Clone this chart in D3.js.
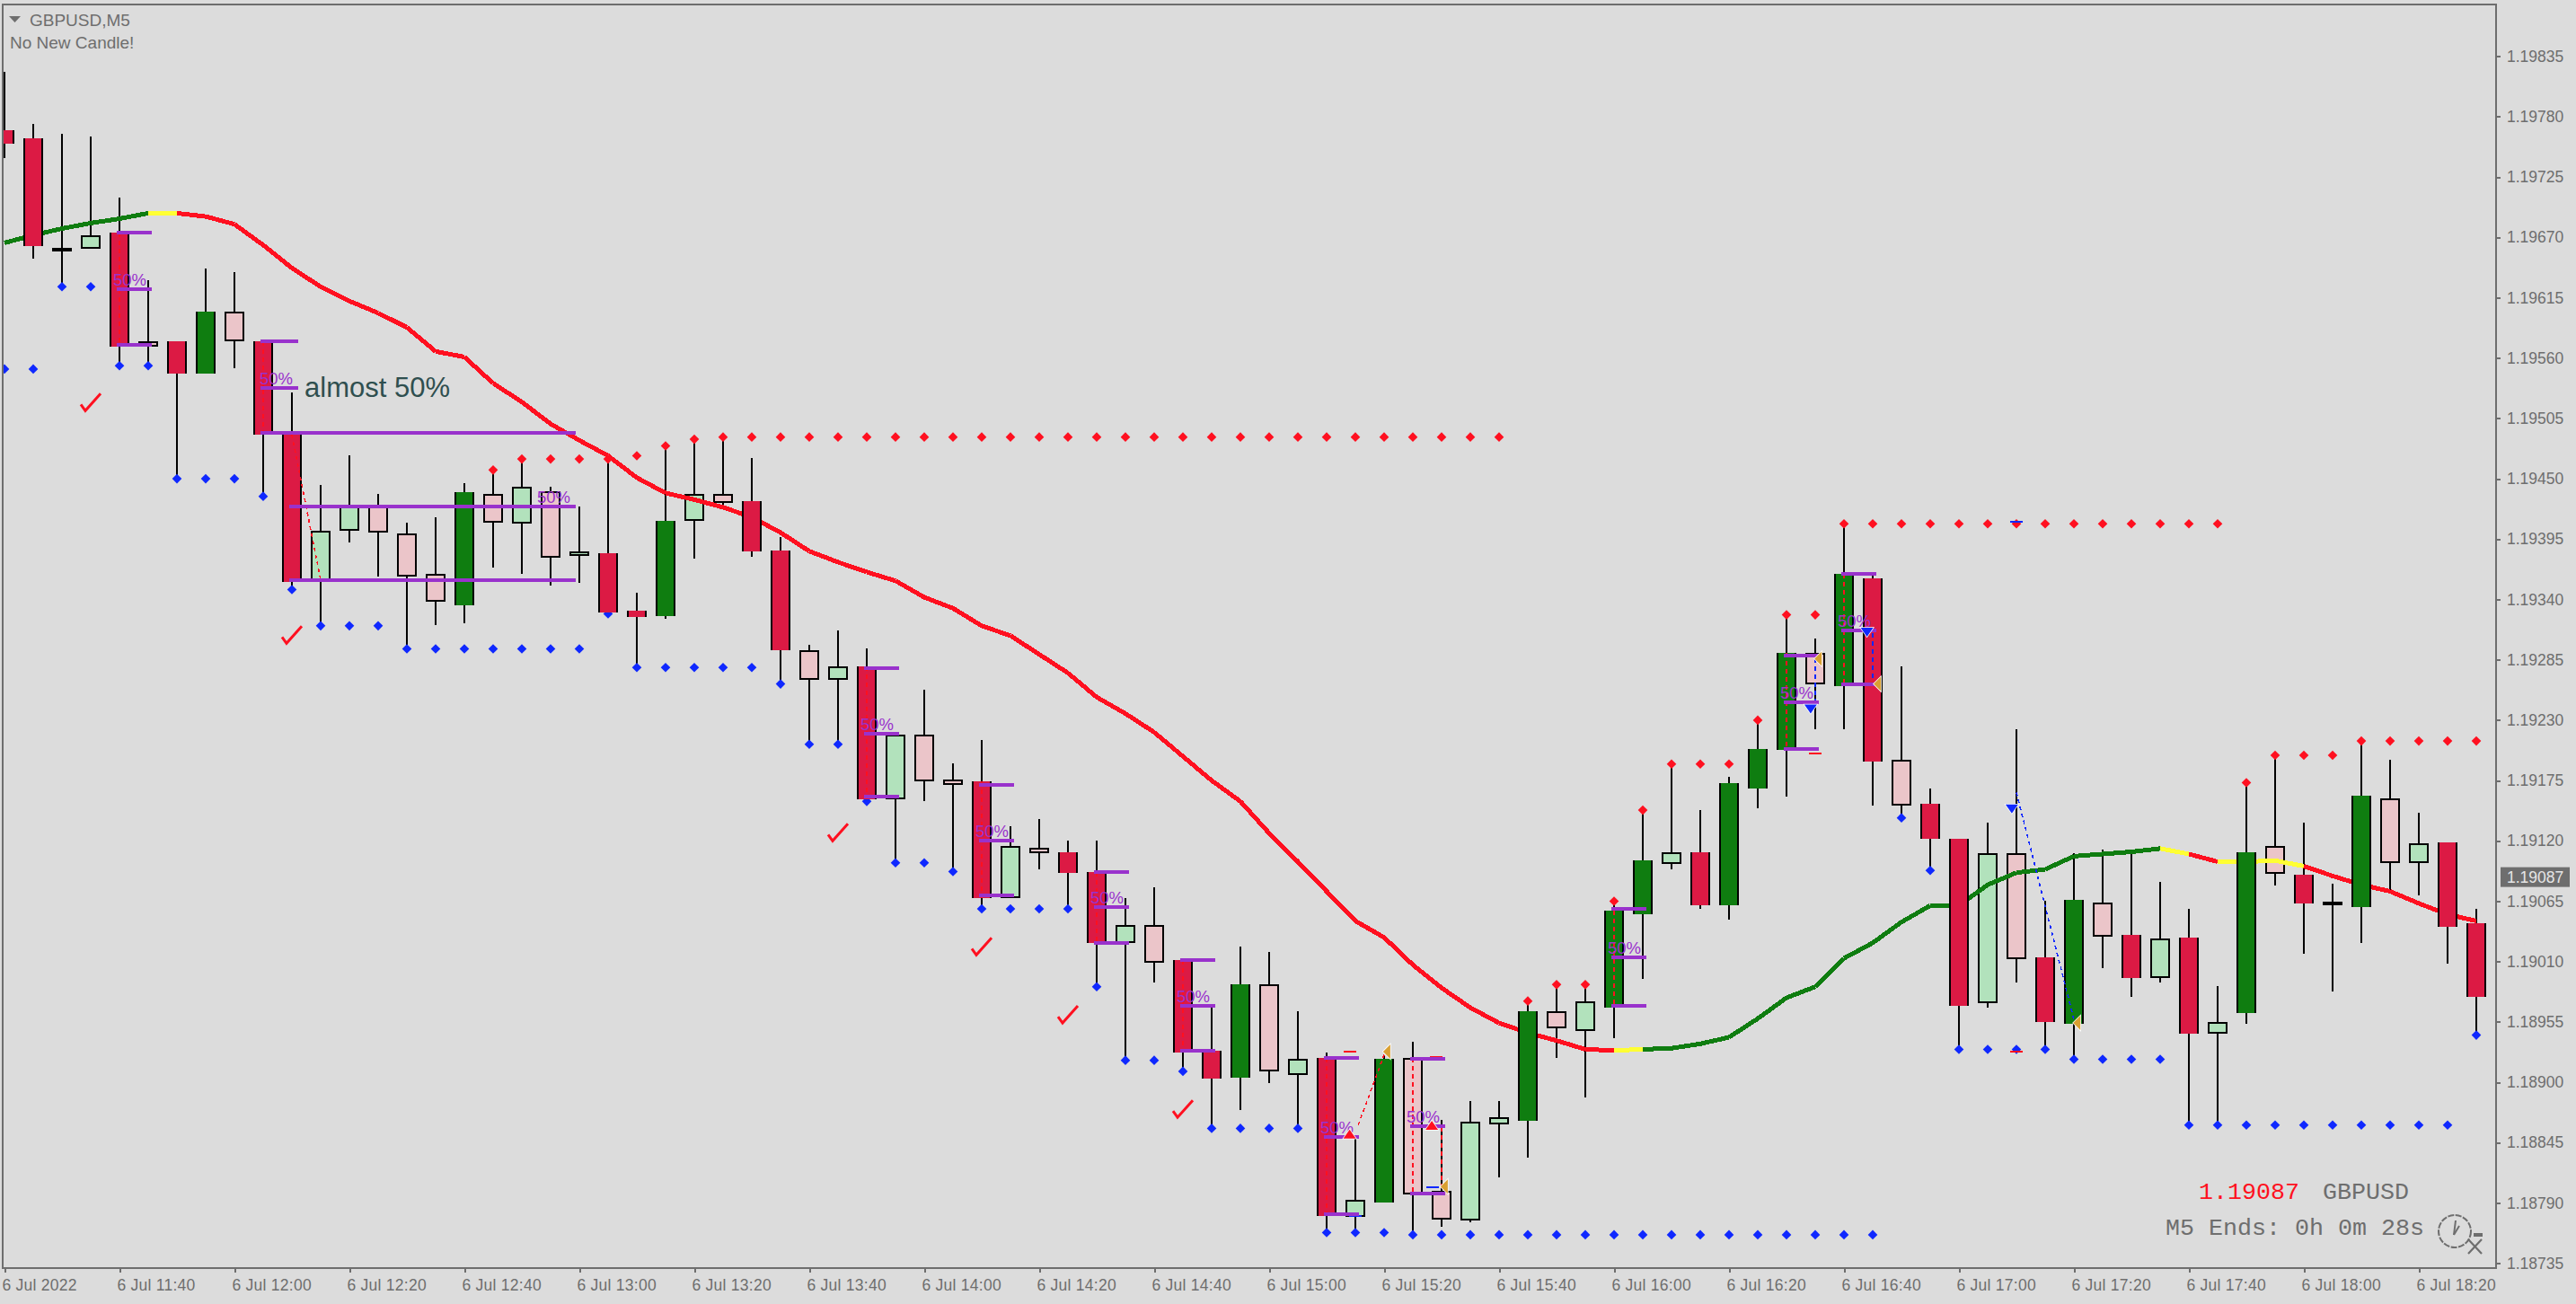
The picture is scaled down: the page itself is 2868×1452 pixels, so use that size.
<!DOCTYPE html>
<html><head><meta charset="utf-8">
<script src="https://cdn.jsdelivr.net/npm/d3@7/dist/d3.min.js"></script>
<style>html,body{margin:0;padding:0;background:#dcdcdc;overflow:hidden}svg{display:block}</style>
</head><body>
<script>
const priceTicks=[1.19835,1.19780,1.19725,1.19670,1.19615,1.19560,1.19505,1.19450,1.19395,1.19340,1.19285,1.19230,1.19175,1.19120,1.19065,1.19010,1.18955,1.18900,1.18845,1.18790,1.18735];
const timeTickBars=[0,4,8,12,16,20,24,28,32,36,40,44,48,52,56,60,64,68,72,76,80,84];
const timeLabels=["6 Jul 2022","6 Jul 11:40","6 Jul 12:00","6 Jul 12:20","6 Jul 12:40","6 Jul 13:00","6 Jul 13:20","6 Jul 13:40","6 Jul 14:00","6 Jul 14:20","6 Jul 14:40","6 Jul 15:00","6 Jul 15:20","6 Jul 15:40","6 Jul 16:00","6 Jul 16:20","6 Jul 16:40","6 Jul 17:00","6 Jul 17:20","6 Jul 17:40","6 Jul 18:00","6 Jul 18:20"];
const kinds="RRDLRPRGPRRLLPPPGPLPLRRGLPRRPLRLPPRLPRRLPRRGPLRLGPPLLGPLGGLRGGGPGRPRRLPRGPRLRLGPRDGPLRR".split("");
const highs=[1.19821,1.19773,1.19764,1.19762,1.19706,1.19631,1.19575,1.19642,1.19638,1.19575,1.19529,1.19444,1.19471,1.19436,1.19410,1.19415,1.19446,1.19458,1.19468,1.19443,1.19425,1.19468,1.19346,1.19480,1.19486,1.19488,1.19469,1.19397,1.19299,1.19312,1.19295,1.19217,1.19258,1.19191,1.19212,1.19133,1.19140,1.19120,1.19120,1.19068,1.19078,1.19011,1.18970,1.19024,1.19019,1.18965,1.18927,1.18850,1.18925,1.18937,1.18866,1.18883,1.18883,1.18974,1.18989,1.18989,1.19065,1.19148,1.19190,1.19148,1.19178,1.19230,1.19326,1.19304,1.19409,1.19363,1.19279,1.19168,1.19122,1.19137,1.19222,1.19065,1.19109,1.19112,1.19110,1.19083,1.19058,1.18988,1.19173,1.19198,1.19137,1.19081,1.19211,1.19194,1.19146,1.19119,1.19058];
const bodyTops=[1.19768,1.19760,1.19659,1.19672,1.19674,1.19575,1.19575,1.19602,1.19602,1.19575,1.19490,1.19403,1.19425,1.19425,1.19400,1.19363,1.19438,1.19436,1.19443,1.19439,1.19384,1.19382,1.19330,1.19412,1.19436,1.19436,1.19430,1.19385,1.19294,1.19279,1.19279,1.19217,1.19217,1.19176,1.19174,1.19115,1.19114,1.19110,1.19092,1.19043,1.19043,1.19011,1.18929,1.18989,1.18989,1.18921,1.18922,1.18793,1.18921,1.18922,1.18801,1.18864,1.18868,1.18965,1.18965,1.18974,1.19056,1.19102,1.19110,1.19110,1.19173,1.19204,1.19291,1.19291,1.19363,1.19359,1.19194,1.19154,1.19122,1.19109,1.19109,1.19014,1.19066,1.19064,1.19034,1.19031,1.19032,1.18955,1.19110,1.19115,1.19089,1.19063,1.19161,1.19159,1.19118,1.19119,1.19045];
const bodyBottoms=[1.19755,1.19662,1.19659,1.19660,1.19570,1.19570,1.19546,1.19546,1.19575,1.19490,1.19356,1.19357,1.19403,1.19401,1.19361,1.19338,1.19335,1.19410,1.19409,1.19378,1.19380,1.19328,1.19324,1.19325,1.19412,1.19428,1.19384,1.19294,1.19267,1.19267,1.19158,1.19158,1.19174,1.19171,1.19068,1.19068,1.19109,1.19091,1.19027,1.19027,1.19009,1.18927,1.18903,1.18904,1.18910,1.18907,1.18778,1.18777,1.18790,1.18798,1.18775,1.18774,1.18862,1.18865,1.18949,1.18947,1.18968,1.19053,1.19099,1.19061,1.19061,1.19168,1.19203,1.19263,1.19261,1.19192,1.19152,1.19122,1.18970,1.18972,1.19012,1.18955,1.18953,1.19033,1.18995,1.18995,1.18944,1.18944,1.18963,1.19090,1.19063,1.19063,1.19060,1.19100,1.19100,1.19042,1.18978];
const lows=[1.19742,1.19651,1.19625,1.19660,1.19553,1.19553,1.19450,1.19546,1.19551,1.19434,1.19349,1.19316,1.19392,1.19361,1.19299,1.19317,1.19318,1.19369,1.19363,1.19353,1.19355,1.19327,1.19278,1.19322,1.19377,1.19426,1.19379,1.19263,1.19208,1.19208,1.19156,1.19100,1.19156,1.19092,1.19058,1.19068,1.19094,1.19058,1.18987,1.18920,1.18991,1.18910,1.18858,1.18875,1.18899,1.18858,1.18763,1.18763,1.18790,1.18761,1.18768,1.18772,1.18813,1.18831,1.18922,1.18886,1.18940,1.18994,1.19094,1.19058,1.19048,1.19150,1.19160,1.19222,1.19222,1.19152,1.19141,1.19093,1.18930,1.18968,1.18991,1.18930,1.18921,1.19004,1.18978,1.18991,1.18861,1.18861,1.18953,1.19079,1.19017,1.18983,1.19027,1.19074,1.19070,1.19008,1.18943];
const maValues=[1.19665,1.19672,1.19678,1.19683,1.19687,1.19692,1.19692,1.19689,1.19682,1.19663,1.19642,1.19625,1.19612,1.19601,1.19588,1.19566,1.19561,1.19537,1.19520,1.19500,1.19485,1.19471,1.19451,1.19437,1.19431,1.19424,1.19415,1.19401,1.19384,1.19374,1.19365,1.19357,1.19342,1.19332,1.19316,1.19307,1.19290,1.19273,1.19251,1.19236,1.19219,1.19197,1.19175,1.19156,1.19127,1.19101,1.19074,1.19047,1.19032,1.19007,1.18986,1.18968,1.18954,1.18945,1.18938,1.18930,1.18929,1.18930,1.18931,1.18935,1.18941,1.18958,1.18977,1.18987,1.19013,1.19027,1.19046,1.19061,1.19061,1.19080,1.19091,1.19094,1.19106,1.19108,1.19110,1.19113,1.19108,1.19101,1.19101,1.19102,1.19097,1.19088,1.19080,1.19074,1.19063,1.19053,1.19047];
const maTrend="GGGGGYRRRRRRRRRRRRRRRRRRRRRRRRRRRRRRRRRRRRRRRRRRRRRRRRRRYGGGGGGGGGGGGGGGGGGYRYYYRRRRRR".split("");
const resistance=[null,null,null,null,null,null,null,null,null,null,null,null,null,null,null,null,null,1.19458,1.19468,1.19468,1.19468,1.19468,1.19471,1.19480,1.19486,1.19488,1.19488,1.19488,1.19488,1.19488,1.19488,1.19488,1.19488,1.19488,1.19488,1.19488,1.19488,1.19488,1.19488,1.19488,1.19488,1.19488,1.19488,1.19488,1.19488,1.19488,1.19488,1.19488,1.19488,1.19488,1.19488,1.19488,1.19488,1.18974,1.18989,1.18989,1.19065,1.19148,1.19190,1.19190,1.19190,1.19230,1.19326,1.19326,1.19409,1.19409,1.19409,1.19409,1.19409,1.19409,1.19409,1.19409,1.19409,1.19409,1.19409,1.19409,1.19409,1.19409,1.19173,1.19198,1.19198,1.19198,1.19211,1.19211,1.19211,1.19211,1.19211];
const support=[1.19550,1.19550,1.19625,1.19625,1.19553,1.19553,1.19450,1.19450,1.19450,1.19434,1.19349,1.19316,1.19316,1.19316,1.19295,1.19295,1.19295,1.19295,1.19295,1.19295,1.19295,1.19327,1.19278,1.19278,1.19278,1.19278,1.19278,1.19263,1.19208,1.19208,1.19156,1.19100,1.19100,1.19092,1.19058,1.19058,1.19058,1.19058,1.18987,1.18920,1.18920,1.18910,1.18858,1.18858,1.18858,1.18858,1.18763,1.18763,1.18763,1.18761,1.18761,1.18761,1.18761,1.18761,1.18761,1.18761,1.18761,1.18761,1.18761,1.18761,1.18761,1.18761,1.18761,1.18761,1.18761,1.18761,1.19141,1.19093,1.18930,1.18930,1.18930,1.18930,1.18921,1.18921,1.18921,1.18921,1.18861,1.18861,1.18861,1.18861,1.18861,1.18861,1.18861,1.18861,1.18861,1.18861,1.18943];
const fibBars=[4,9,10,30,34,38,41,46,49,56,62,64];
const fibSpans=[1.22,1.31,9.97,1.22,1.22,1.22,1.22,1.22,1.22,1.22,1.22,1.22];
const fibTops=[1.19674,1.19575,1.19492,1.19277,1.19171,1.19092,1.19011,1.18922,1.18921,1.19058,1.19289,1.19363];
const fibMids=[1.19623,1.19533,1.19425,1.19218,1.19120,1.19060,1.18970,1.18850,1.18860,1.19014,1.19246,1.19312];
const fibBottoms=[1.19572,1.19492,1.19358,1.19160,1.19070,1.19027,1.18929,1.18780,1.18799,1.18970,1.19204,1.19263];
const redDashStartBars=[4,9,10,30,34,38,41,46,47.1,49,50,56,62,64];
const redDashStartPrices=[1.19674,1.19575,1.19490,1.19279,1.19174,1.19092,1.19011,1.18922,1.18861,1.18922,1.18859,1.19056,1.19291,1.19363];
const redDashEndBars=[4,9,11,30,34,38,41,46,48,49,50,56,62,64];
const redDashEndPrices=[1.19570,1.19490,1.19358,1.19158,1.19068,1.19027,1.18929,1.18778,1.18925,1.18799,1.18801,1.18968,1.19203,1.19261];
const blueDashStartBars=[63,65,70];
const blueDashStartPrices=[1.19286,1.19309,1.19164];
const blueDashEndBars=[63,65,72];
const blueDashEndPrices=[1.19246,1.19265,1.18957];
const checkBars=[3,10,29,34,37,41];
const checkPrices=[1.19512,1.19300,1.19120,1.19016,1.18954,1.18868];
const orangeBars=[48.09,50.09,63.1,65.16,72.1];
const orangePrices=[1.18928,1.18805,1.19286,1.19263,1.18954];
const blueArrowBars=[62.84,64.8,69.84];
const blueArrowPrices=[1.19241,1.19311,1.19150];
const redArrowBars=[46.8,49.66];
const redArrowPrices=[1.18852,1.18860];
const redTickBars=[46.8,49.8,63,70];
const redTickPrices=[1.18928,1.18923,1.19200,1.18928];
const blueTickBars=[70,47,49.7];
const blueTickPrices=[1.19411,1.18778,1.18804];
const lastPrice=1.19087;

const W=2868,H=1452,L=3,T=5,R=2779,B=1412;
const FG="#6e6e6e",CRIMSON="#dc1a44",GREEN="#0f7d10",PALEG="#b2e2bc",PALER="#ebc5c9",PURPLE="#9932cc",RED="#ff1020",BLUE="#0f28ff";
const svg=d3.select("body").append("svg").attr("width",W).attr("height",H);
svg.append("rect").attr("width",W).attr("height",H).attr("fill","#dcdcdc");
svg.append("defs").append("clipPath").attr("id","plot").append("rect").attr("x",L).attr("y",T).attr("width",R-L).attr("height",B-T);

const x=d3.scaleLinear().domain([0,86]).range([5,2757]);
const y=d3.scaleLinear().domain([1.18735,1.19835]).range([1406.7,62.7]);
const bars=d3.range(kinds.length).map(i=>({i,kind:kinds[i],h:highs[i],l:lows[i],t:bodyTops[i],b:bodyBottoms[i]}));
const plot=svg.append("g").attr("clip-path","url(#plot)");
const HW=11;

// wicks
plot.append("g").selectAll("rect").data(bars).join("rect")
 .attr("x",d=>x(d.i)-1).attr("width",2).attr("y",d=>Math.round(y(d.h))).attr("height",d=>Math.round(y(d.l))-Math.round(y(d.h)))
 .attr("fill","#000").attr("shape-rendering","crispEdges");
// pale bodies
plot.append("g").selectAll("rect").data(bars.filter(d=>d.kind==="L"||d.kind==="P")).join("rect")
 .attr("x",d=>x(d.i)-HW+1).attr("width",2*HW-2).attr("y",d=>Math.round(y(d.t))+1).attr("height",d=>Math.max(1,Math.round(y(d.b))-Math.round(y(d.t))-2))
 .attr("fill",d=>d.kind==="L"?PALEG:PALER).attr("stroke","#000").attr("stroke-width",2).attr("shape-rendering","crispEdges");
// moving average
const maLine=d3.line().x(d=>x(d[0])).y(d=>y(d[1]));
const maColor={G:GREEN,Y:"#ffff33",R:RED};
const maSegs=d3.range(maValues.length-1).map(i=>({c:maTrend[i],pts:[[i,maValues[i]],[i+1,maValues[i+1]]]}));
plot.append("g").selectAll("path").data(maSegs).join("path").attr("d",d=>maLine(d.pts)).attr("fill","none")
 .attr("stroke",d=>maColor[d.c]).attr("stroke-width",5).attr("stroke-linecap","butt").attr("stroke-linejoin","round").attr("shape-rendering","crispEdges");
// dots
const diamond=d3.symbol().type(d3.symbolDiamond2).size(72);
plot.append("g").selectAll("path").data(resistance.map((v,i)=>({v,i})).filter(d=>d.v!==null)).join("path")
 .attr("d",diamond).attr("transform",d=>`translate(${x(d.i)},${y(d.v)})`).attr("fill",RED);
plot.append("g").selectAll("path").data(support.map((v,i)=>({v,i}))).join("path")
 .attr("d",diamond).attr("transform",d=>`translate(${x(d.i)},${y(d.v)})`).attr("fill",BLUE);
// strong bodies
const strong=bars.filter(d=>d.kind==="R"||d.kind==="G");
plot.append("g").selectAll("rect").data(strong).join("rect")
 .attr("x",d=>x(d.i)-HW).attr("width",2*HW).attr("y",d=>Math.round(y(d.t))).attr("height",d=>Math.round(y(d.b))-Math.round(y(d.t)))
 .attr("fill",d=>d.kind==="R"?CRIMSON:GREEN).attr("shape-rendering","crispEdges");
["-11","9"].forEach(off=>{
 plot.append("g").selectAll("rect").data(strong).join("rect")
 .attr("x",d=>x(d.i)+(+off)).attr("width",2).attr("y",d=>Math.round(y(d.t))).attr("height",d=>Math.round(y(d.b))-Math.round(y(d.t)))
 .attr("fill","#000").attr("shape-rendering","crispEdges");
});
// doji
plot.append("g").selectAll("rect").data(bars.filter(d=>d.kind==="D")).join("rect")
 .attr("x",d=>x(d.i)-HW).attr("width",2*HW).attr("y",d=>y(d.t)-2).attr("height",4).attr("fill","#000").attr("shape-rendering","crispEdges");
// dashed traces
function dashes(sb,sp,eb,ep,color){
 const g=plot.append("g");
 sb.forEach((b,k)=>{
  const slanted=b!==eb[k];
  g.append("path").attr("d",d3.line()([[x(b),y(sp[k])],[x(eb[k]),y(ep[k])]])).attr("fill","none").attr("stroke",color)
   .attr("stroke-width",slanted?1.6:2).attr("stroke-dasharray",slanted?"4 4":"5 4").attr("shape-rendering","crispEdges");
 });
}
dashes(redDashStartBars,redDashStartPrices,redDashEndBars,redDashEndPrices,RED);
dashes(blueDashStartBars,blueDashStartPrices,blueDashEndBars,blueDashEndPrices,BLUE);
// small ticks
plot.append("g").selectAll("rect").data(redTickBars.map((b,k)=>[b,redTickPrices[k]])).join("rect")
 .attr("x",d=>x(d[0])-7).attr("y",d=>y(d[1])-1).attr("width",14).attr("height",2).attr("fill",RED).attr("shape-rendering","crispEdges");
plot.append("g").selectAll("rect").data(blueTickBars.map((b,k)=>[b,blueTickPrices[k]])).join("rect")
 .attr("x",d=>x(d[0])-7).attr("y",d=>y(d[1])-1).attr("width",14).attr("height",2).attr("fill",BLUE).attr("shape-rendering","crispEdges");
// fib lines and labels
fibBars.forEach((b,k)=>{
 const x1=x(b)-3,x2=x(b+fibSpans[k])-3;
 const g=plot.append("g");
 [fibTops[k],fibMids[k],fibBottoms[k]].forEach(v=>{
  g.append("rect").attr("x",x1).attr("width",x2-x1).attr("y",Math.round(y(v))-2).attr("height",4).attr("fill",PURPLE).attr("shape-rendering","crispEdges");
 });
 g.append("text").attr("x",x2-43).attr("y",y(fibMids[k])-4).attr("font-family","Liberation Sans").attr("font-size",18.5).attr("fill",PURPLE).text("50%");
});
// arrows
const tri=pts=>d3.line()(pts)+"Z";
const halo=(sel)=>sel.attr("stroke","#fff").attr("stroke-width",1.5).attr("paint-order","stroke");
halo(plot.append("g").selectAll("path").data(orangeBars.map((b,k)=>[x(b),y(orangePrices[k])])).join("path")
 .attr("d",d=>tri([[d[0]-4,d[1]],[d[0]+4,d[1]-8],[d[0]+4,d[1]+8]])).attr("fill","#d9a032"));
halo(plot.append("g").selectAll("path").data(blueArrowBars.map((b,k)=>[x(b),y(blueArrowPrices[k])])).join("path")
 .attr("d",d=>tri([[d[0]-7,d[1]-4],[d[0]+7,d[1]-4],[d[0],d[1]+6]])).attr("fill",BLUE));
halo(plot.append("g").selectAll("path").data(redArrowBars.map((b,k)=>[x(b),y(redArrowPrices[k])])).join("path")
 .attr("d",d=>tri([[d[0]-7,d[1]+4],[d[0]+7,d[1]+4],[d[0],d[1]-6]])).attr("fill",RED));
// check marks
plot.append("g").selectAll("path").data(checkBars.map((b,k)=>[x(b),y(checkPrices[k])])).join("path")
 .attr("d",d=>d3.line()([[d[0]-11,d[1]-7],[d[0]-6,d[1]],[d[0]+11,d[1]-19]])).attr("fill","none").attr("stroke",RED).attr("stroke-width",3);

// annotation
svg.append("text").attr("x",339).attr("y",442).attr("font-family","Liberation Sans").attr("font-size",31).attr("fill","#2f4f4f").text("almost 50%");

// frame
svg.append("rect").attr("x",L).attr("y",T).attr("width",R-L).attr("height",B-T).attr("fill","none").attr("stroke",FG).attr("stroke-width",2).attr("shape-rendering","crispEdges");

// axes
const yAxis=d3.axisRight(y).tickValues(priceTicks).tickSize(5).tickPadding(7).tickFormat(d3.format(".5f"));
const gy=svg.append("g").attr("transform",`translate(${R},0)`).call(yAxis);
const xAxis=d3.axisBottom(x).tickValues(timeTickBars).tickSize(5).tickFormat((d,k)=>timeLabels[k]);
const gx=svg.append("g").attr("transform",`translate(0,${B})`).call(xAxis);
[gy,gx].forEach(g=>{g.select(".domain").remove();g.selectAll("line").attr("stroke",FG).attr("stroke-width",2).attr("shape-rendering","crispEdges");
 g.selectAll("text").attr("fill",FG).attr("font-family","Liberation Sans").attr("font-size",17.5);});
gx.selectAll("text").attr("text-anchor","start").attr("x",-3).attr("y",25).attr("dy",0).attr("letter-spacing",0.25);

// last price marker
svg.append("rect").attr("x",2784).attr("y",y(lastPrice)-11).attr("width",77).attr("height",22).attr("fill",FG);
svg.append("text").attr("x",2791).attr("y",y(lastPrice)+6).attr("font-family","Liberation Sans").attr("font-size",17.5).attr("fill","#e6e6e6").text(d3.format(".5f")(lastPrice));

// header
svg.append("path").attr("d",d3.line()([[10,18],[23,18],[16.5,25]])+"Z").attr("fill",FG);
svg.append("text").attr("x",33).attr("y",28.5).attr("font-family","Liberation Sans").attr("font-size",19).attr("fill",FG).text("GBPUSD,M5");
svg.append("text").attr("x",11).attr("y",53.5).attr("font-family","Liberation Sans").attr("font-size",19).attr("fill",FG).text("No New Candle!");

// countdown
const mono=(t,px,py,c)=>svg.append("text").attr("x",px).attr("y",py).attr("font-family","Liberation Mono").attr("font-size",26.67).attr("fill",c).text(t);
mono(d3.format(".5f")(lastPrice),2448,1335,RED);
mono("GBPUSD",2586,1335,FG);
mono("M5 Ends: 0h 0m 28s",2411,1375,FG);

// clock icon
const clock=svg.append("g").attr("transform","translate(2733,1371)").attr("fill","none").attr("stroke",FG).attr("stroke-width",2);
clock.append("circle").attr("r",18).attr("stroke-dasharray","7 1.5");
clock.append("path").attr("d",d3.line()([[1,-12],[-1,4]]));
clock.append("path").attr("d",d3.line()([[-1,4],[5,-6]]));
const tool=svg.append("g").attr("transform","translate(2756,1388)").attr("fill","none").attr("stroke",FG).attr("stroke-width",2.2);
tool.append("path").attr("d",d3.line()([[-8,-8],[7,8]]));
tool.append("path").attr("d",d3.line()([[7,-8],[-8,8]]));
tool.append("path").attr("d",d3.line()([[-2,-13],[8,-13]])).attr("stroke-width",4);
</script>
</body></html>
